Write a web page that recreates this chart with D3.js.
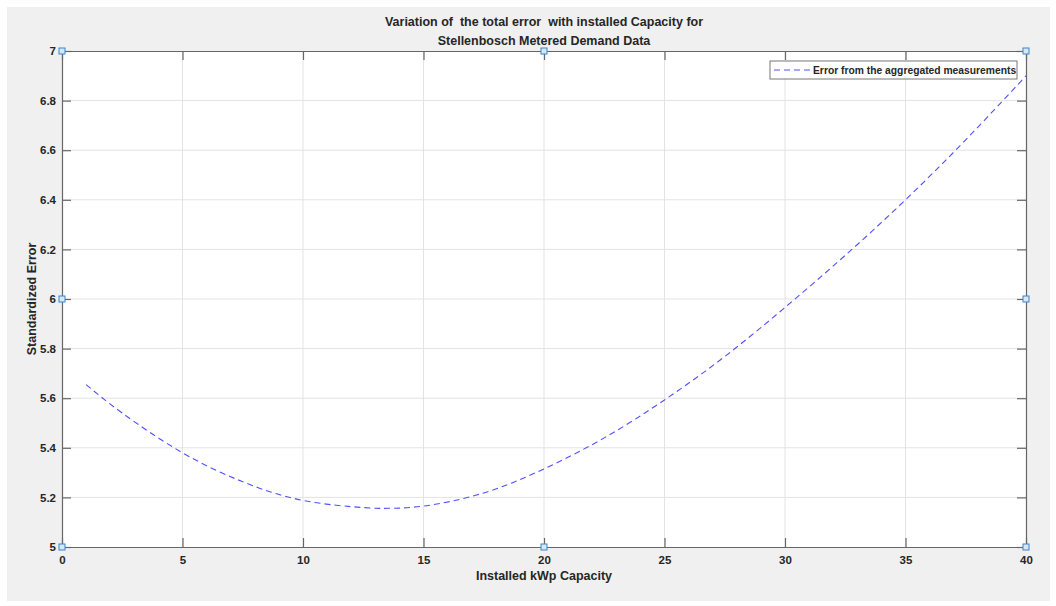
<!DOCTYPE html>
<html lang="en">
<head>
<meta charset="UTF-8">
<title>Standardized error vs installed capacity</title>
<script src="https://d3js.org/d3.v7.min.js"></script>
<style>
  body { margin: 0; background: #fff; font-family: "Liberation Sans", Arial, sans-serif; }
  svg text { font-family: "Liberation Sans", Arial, sans-serif; font-weight: bold; fill: #262626; }
</style>
</head>
<body>
<div id="chart"></div>
<script>
// values
const capacity = [1, 2.5, 5, 7.5, 10, 12.5, 13.5, 15, 17.5, 20, 22.5, 25, 27.5, 30, 32.5, 35, 37.5, 40];
const stdError = [5.655, 5.54, 5.38, 5.263, 5.188, 5.159, 5.156, 5.165, 5.218, 5.315, 5.44, 5.593, 5.768, 5.966, 6.176, 6.40, 6.642, 6.90];
const xTicks = [0, 5, 10, 15, 20, 25, 30, 35, 40];
const yTicks = [5, 5.2, 5.4, 5.6, 5.8, 6, 6.2, 6.4, 6.6, 6.8, 7];
// selection handles on the axes box
const handleX = [0, 0, 0, 20, 20, 40, 40, 40];
const handleY = [5, 6, 7, 7, 5, 7, 6, 5];

const W = 1056, H = 606;
const margin = { top: 51, right: 30, bottom: 59, left: 62 };
const width = W - margin.left - margin.right;   // 964
const height = H - margin.top - margin.bottom;  // 496

const svg = d3.select("#chart").append("svg")
    .attr("width", W)
    .attr("height", H);

// figure background
svg.append("rect")
    .attr("x", 7).attr("y", 7)
    .attr("width", 1043).attr("height", 594)
    .attr("fill", "#f0f0f0");

const g = svg.append("g")
    .attr("transform", "translate(" + margin.left + "," + margin.top + ")");

const x = d3.scaleLinear().domain([0, 40]).range([0, width]);
const y = d3.scaleLinear().domain([5, 7]).range([height, 0]);

g.append("rect")
    .attr("width", width).attr("height", height)
    .attr("fill", "#fff");

// grid
g.append("g").selectAll("line").data(xTicks.slice(1, -1)).join("line")
    .attr("x1", d => x(d)).attr("x2", d => x(d))
    .attr("y1", 0).attr("y2", height)
    .attr("stroke", "#e3e3e3").attr("stroke-width", 1);
g.append("g").selectAll("line").data(yTicks.slice(1, -1)).join("line")
    .attr("y1", d => y(d)).attr("y2", d => y(d))
    .attr("x1", 0).attr("x2", width)
    .attr("stroke", "#e3e3e3").attr("stroke-width", 1);

// axes (ticks point inward, box on)
const tickLen = 9;
const xAxis = g.append("g")
    .attr("transform", "translate(0," + height + ")")
    .call(d3.axisBottom(x).tickValues(xTicks).tickSizeInner(-tickLen).tickSizeOuter(0).tickPadding(6));
const xAxisTop = g.append("g")
    .call(d3.axisTop(x).tickValues(xTicks).tickSizeInner(-tickLen).tickSizeOuter(0).tickFormat(""));
const yAxis = g.append("g")
    .call(d3.axisLeft(y).tickValues(yTicks).tickSizeInner(-tickLen).tickSizeOuter(0).tickPadding(6)
        .tickFormat(d => d3.format("~g")(d)));
const yAxisRight = g.append("g")
    .attr("transform", "translate(" + width + ",0)")
    .call(d3.axisRight(y).tickValues(yTicks).tickSizeInner(-tickLen).tickSizeOuter(0).tickFormat(""));

[xAxis, xAxisTop, yAxis, yAxisRight].forEach(a => {
    a.select(".domain").attr("stroke", "#666").attr("stroke-width", 1.2);
    a.selectAll(".tick line").attr("stroke", "#666").attr("stroke-width", 1.2);
    a.selectAll(".tick text").attr("font-size", 11.5).attr("fill", "#262626");
});
xAxis.selectAll(".tick text").attr("dy", "0.95em");

// the curve
const line = d3.line()
    .x((d, i) => x(capacity[i]))
    .y(d => y(d))
    .curve(d3.curveNatural);

g.append("path")
    .datum(stdError)
    .attr("fill", "none")
    .attr("stroke", "#5050ff")
    .attr("stroke-width", 1.1)
    .attr("stroke-dasharray", "6,4")
    .attr("d", line);

// handles
g.append("g").selectAll("rect").data(handleX).join("rect")
    .attr("x", (d, i) => x(d) - 3)
    .attr("y", (d, i) => y(handleY[i]) - 3)
    .attr("width", 6).attr("height", 6)
    .attr("fill", "#d6e8f7")
    .attr("stroke", "#3d84c6")
    .attr("stroke-width", 1);

// legend
const leg = g.append("g").attr("transform", "translate(" + (770 - margin.left) + "," + (61 - margin.top) + ")");
leg.append("rect")
    .attr("width", 247).attr("height", 18)
    .attr("fill", "#fff").attr("stroke", "#777").attr("stroke-width", 1);
leg.append("line")
    .attr("x1", 4).attr("x2", 40).attr("y1", 9).attr("y2", 9)
    .attr("stroke", "#5050ff").attr("stroke-width", 1.1)
    .attr("stroke-dasharray", "6,4");
leg.append("text")
    .attr("x", 43).attr("y", 13)
    .attr("font-size", 10.3)
    .text("Error from the aggregated measurements");

// title and labels
svg.append("text")
    .attr("x", margin.left + width / 2).attr("y", 26)
    .attr("text-anchor", "middle").attr("font-size", 12.5)
    .attr("xml:space", "preserve")
    .text("Variation of  the total error  with installed Capacity for");
svg.append("text")
    .attr("x", margin.left + width / 2).attr("y", 45)
    .attr("text-anchor", "middle").attr("font-size", 12.5)
    .text("Stellenbosch Metered Demand Data");
svg.append("text")
    .attr("x", margin.left + width / 2).attr("y", 580)
    .attr("text-anchor", "middle").attr("font-size", 12.5)
    .text("Installed kWp Capacity");
svg.append("text")
    .attr("transform", "translate(36," + (margin.top + height / 2) + ") rotate(-90)")
    .attr("text-anchor", "middle").attr("font-size", 12.5)
    .text("Standardized Error");
</script>
</body>
</html>
